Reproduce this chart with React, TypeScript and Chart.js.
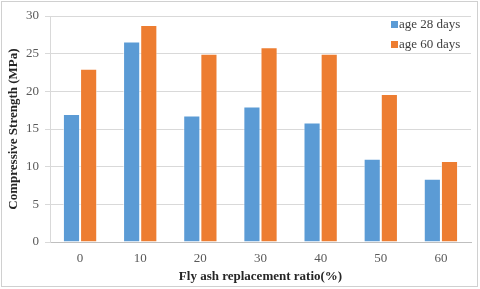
import React, { useEffect, useRef } from "react";
import { Chart, registerables } from "chart.js";

Chart.register(...registerables);

const categories = ["0", "10", "20", "30", "40", "50", "60"];
const age28 = [17, 26.6, 16.8, 18, 15.85, 11.05, 8.4];
const age60 = [23, 28.8, 25, 25.85, 25, 19.65, 10.75];
const seriesLabels = ["age 28 days", "age 60 days"];
const yTicksMax = 30;
const yTickStep = 5;

const FONT = "'Liberation Serif', 'Times New Roman', serif";

const legendPlugin = {
  id: "insideLegend",
  afterDraw(chart: any) {
    const { ctx, chartArea } = chart;
    ctx.save();
    ctx.font = `13px ${FONT}`;
    ctx.textBaseline = "middle";
    ctx.textAlign = "left";
    const x = chartArea.right - 80;
    let y = chartArea.top + 8;
    chart.data.datasets.forEach((ds: any) => {
      ctx.fillStyle = ds.backgroundColor;
      ctx.fillRect(x, y - 3, 7, 7);
      ctx.fillStyle = "#404040";
      ctx.fillText(ds.label, x + 8, y + 1);
      y += 20;
    });
    ctx.restore();
  },
};

export default function App() {
  const ref = useRef<HTMLCanvasElement>(null);
  useEffect(() => {
    document.body.style.margin = "0";
    const chart = new Chart(ref.current!, {
      type: "bar",
      data: {
        labels: categories,
        datasets: [
          {
            label: seriesLabels[0],
            data: age28,
            backgroundColor: "#5B9BD5",
            borderColor: "rgba(255,255,255,0.55)",
            borderWidth: 1,
            categoryPercentage: 0.57,
            barPercentage: 1,
          },
          {
            label: seriesLabels[1],
            data: age60,
            backgroundColor: "#ED7D31",
            borderColor: "rgba(255,255,255,0.55)",
            borderWidth: 1,
            categoryPercentage: 0.57,
            barPercentage: 1,
          },
        ],
      },
      options: {
        responsive: false,
        animation: false,
        devicePixelRatio: 1,
        layout: { padding: { left: 6, right: 9, top: 16, bottom: 5 } },
        plugins: {
          legend: { display: false },
          tooltip: { enabled: false },
        },
        scales: {
          x: {
            grid: { display: false, drawTicks: false },
            border: { color: "#bfbfbf", width: 1 },
            ticks: {
              color: "#595959",
              font: { family: FONT, size: 13 },
              padding: 9,
            },
            title: {
              display: true,
              text: "Fly ash replacement ratio(%)",
              color: "#262626",
              font: { family: FONT, size: 13, weight: "bold" },
              padding: { top: 0, bottom: 0 },
            },
            afterFit: (s: any) => {
              s.height = 42;
            },
          },
          y: {
            min: 0,
            max: yTicksMax,
            ticks: {
              stepSize: yTickStep,
              color: "#595959",
              font: { family: FONT, size: 13 },
              padding: 6,
            },
            grid: { color: "#d9d9d9", drawTicks: true, tickLength: 5 },
            border: { color: "#d9d9d9", width: 1 },
            title: {
              display: true,
              text: "Compressive Strength (MPa)",
              color: "#262626",
              font: { family: FONT, size: 13, weight: "bold" },
              padding: { top: 0, bottom: 0 },
            },
            afterFit: (s: any) => {
              s.width = 44;
            },
          },
        },
      },
      plugins: [legendPlugin],
    });
    return () => chart.destroy();
  }, []);
  return (
    <div style={{ position: "relative", width: 480, height: 289 }}>
      <canvas ref={ref} width={480} height={289} style={{ position: "absolute", left: 0, top: 0 }} />
      <div
        style={{
          position: "absolute",
          left: 1,
          top: 1,
          width: 477,
          height: 286,
          boxSizing: "border-box",
          border: "1px solid #d0d0d0",
          pointerEvents: "none",
        }}
      />
    </div>
  );
}
